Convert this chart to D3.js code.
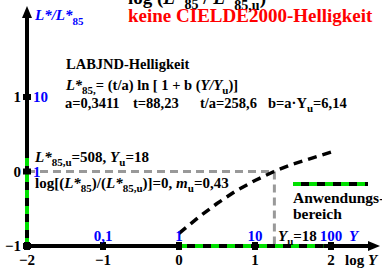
<!DOCTYPE html>
<html>
<head>
<meta charset="utf-8">
<script src="https://cdn.jsdelivr.net/npm/d3@7"></script>
<style>
  body { margin: 0; background: #fff; }
  svg text { font-family: "Liberation Serif", "Times New Roman", serif; font-weight: bold; }
</style>
</head>
<body>
<div id="chart"></div>
<script>
// data
const xTicks = [-2, -1, 0, 1, 2];
const yTicks = [-1, 0, 1];
const yTickLabels = ['\u22121', '0', '1'];
const xTickLabels = ['\u22122', '\u22121', '0', '1', '2'];
const yValueTicks = [0.1, 1, 10, 100];          // Y values above the x axis
const yValueLabels = ['0,1', '1', '10', '100'];
const ratioTicks = [0, 1];                       // L*/L*85 labels on the y axis
const ratioLabels = ['1', '10'];
const curveLogY = [0, 0.25, 0.5, 0.75, 1, 1.25, 1.5, 1.75, 2];
const curveLogL = [-0.83, -0.62, -0.43, -0.26, -0.12, 0.0, 0.10, 0.18, 0.26];
const logYu = 1.255;   // Yu = 18
const rangeX = [0, 1.9];
const rangeY = [-1, 0.25];

const width = 382, height = 268;
const x = d3.scaleLinear().domain([-2, 2]).range([27, 331]);
const y = d3.scaleLinear().domain([-1, 1]).range([246, 97]);

const svg = d3.select('#chart').append('svg')
  .attr('width', width).attr('height', height);

// gray helper lines
svg.append('line')
  .attr('x1', x(-2)).attr('x2', x(logYu)).attr('y1', y(0)).attr('y2', y(0))
  .attr('stroke', '#999').attr('stroke-width', 3).attr('stroke-dasharray', '8,5');
svg.append('line')
  .attr('x1', x(logYu)).attr('x2', x(logYu)).attr('y1', y(0)).attr('y2', y(-1))
  .attr('stroke', '#999').attr('stroke-width', 3).attr('stroke-dasharray', '8,5');

// axes
svg.append('line').attr('x1', x(-2)).attr('x2', 372).attr('y1', y(-1)).attr('y2', y(-1))
  .attr('stroke', '#000').attr('stroke-width', 4);
svg.append('path').attr('d', `M380,${y(-1)} L368,${y(-1) - 5} L368,${y(-1) + 5}Z`).attr('fill', '#000');
svg.append('line').attr('x1', x(-2)).attr('x2', x(-2)).attr('y1', y(-1)).attr('y2', 16)
  .attr('stroke', '#000').attr('stroke-width', 4);
svg.append('path').attr('d', `M${x(-2)},6 L${x(-2) - 5},18 L${x(-2) + 5},18Z`).attr('fill', '#000');

// application range (green dashes over axes)
svg.append('line').attr('x1', x(rangeX[0])).attr('x2', x(rangeX[1])).attr('y1', y(-1)).attr('y2', y(-1))
  .attr('stroke', '#00e000').attr('stroke-width', 4).attr('stroke-dasharray', '8,8');
svg.append('line').attr('x1', x(-2)).attr('x2', x(-2)).attr('y1', y(rangeY[0])).attr('y2', y(rangeY[1]))
  .attr('stroke', '#00e000').attr('stroke-width', 4).attr('stroke-dasharray', '8,8');

// tick marks
svg.selectAll('.xt').data(xTicks).enter().append('rect')
  .attr('x', d => x(d) - 3).attr('y', y(-1) - 4).attr('width', 6).attr('height', 8).attr('fill', '#000');
svg.selectAll('.yt').data(yTicks).enter().append('rect')
  .attr('x', x(-2) - 4).attr('y', d => y(d) - 3).attr('width', 8).attr('height', 6).attr('fill', '#000');

// curve
const line = d3.line().x((d, i) => x(curveLogY[i])).y(d => y(d));
svg.append('path').datum(curveLogL).attr('d', line)
  .attr('fill', 'none').attr('stroke', '#000').attr('stroke-width', 3.5).attr('stroke-dasharray', '9,6');

// tick labels
svg.selectAll('.xl').data(xTicks).enter().append('text')
  .attr('x', d => x(d)).attr('y', 265).attr('text-anchor', 'middle').attr('font-size', 15)
  .text((d, i) => xTickLabels[i]);
svg.selectAll('.yl').data(yTicks).enter().append('text')
  .attr('x', 21).attr('y', d => y(d) + 5).attr('text-anchor', 'end').attr('font-size', 15)
  .text((d, i) => yTickLabels[i]);
svg.selectAll('.yv').data(yValueTicks).enter().append('text')
  .attr('x', d => x(Math.log10(d))).attr('y', 241).attr('text-anchor', 'middle').attr('font-size', 15)
  .attr('fill', '#0000ff').text((d, i) => yValueLabels[i]);
svg.selectAll('.rv').data(ratioTicks).enter().append('text')
  .attr('x', 33).attr('y', d => y(d) + 5).attr('font-size', 15)
  .attr('fill', '#0000ff').text((d, i) => ratioLabels[i]);

svg.append('text').attr('x', 349).attr('y', 241).attr('font-size', 15).attr('fill', '#0000ff')
  .attr('font-style', 'italic').text('Y');
const ly = svg.append('text').attr('x', 345).attr('y', 265).attr('font-size', 15);
ly.append('tspan').text('log ');
ly.append('tspan').attr('font-style', 'italic').text('Y');

// y axis title
const yt = svg.append('text').attr('x', 35).attr('y', 20).attr('font-size', 15).attr('fill', '#0000ff');
yt.append('tspan').attr('font-style', 'italic').text('L*/L*');
yt.append('tspan').attr('font-size', 11).attr('dy', 5).text('85');

// title
const t = svg.append('text').attr('x', 128).attr('y', 4).attr('font-size', 19);
t.append('tspan').text('log (');
t.append('tspan').attr('font-style', 'italic').text('L*');
t.append('tspan').attr('font-size', 14).attr('dy', 5).text('85');
t.append('tspan').attr('dy', -5).text(' / ');
t.append('tspan').attr('font-style', 'italic').text('L*');
t.append('tspan').attr('font-size', 14).attr('dy', 6).text('85,u');
t.append('tspan').attr('dy', -6).text(')');
svg.append('text').attr('x', 128).attr('y', 22).attr('font-size', 19).attr('fill', '#ff0000')
  .text('keine CIELDE2000-Helligkeit');

// formula block
svg.append('text').attr('x', 66).attr('y', 69).attr('font-size', 14.5).text('LABJND-Helligkeit');
const f = svg.append('text').attr('x', 66).attr('y', 90).attr('font-size', 14.5);
f.append('tspan').attr('font-style', 'italic').text('L*');
f.append('tspan').attr('font-size', 11).attr('dy', 4).text('85,');
f.append('tspan').attr('dy', -4).text('= (t/a) ln [ 1 + b (');
f.append('tspan').attr('font-style', 'italic').text('Y/Y');
f.append('tspan').attr('font-size', 11).attr('dy', 4).text('u');
f.append('tspan').attr('dy', -4).text(')]');
svg.append('text').attr('x', 65).attr('y', 108).attr('font-size', 14.5).text('a=0,3411');
svg.append('text').attr('x', 133).attr('y', 108).attr('font-size', 14.5).text('t=88,23');
svg.append('text').attr('x', 200).attr('y', 108).attr('font-size', 14.5).text('t/a=258,6');
const p = svg.append('text').attr('x', 268).attr('y', 108).attr('font-size', 14.5);
p.append('tspan').text('b=a\u00b7Y');
p.append('tspan').attr('font-size', 11).attr('dy', 4).text('u');
p.append('tspan').attr('dy', -4).text('=6,14');

// reference point text
const r1 = svg.append('text').attr('x', 35).attr('y', 162).attr('font-size', 15);
r1.append('tspan').attr('font-style', 'italic').text('L*');
r1.append('tspan').attr('font-size', 11).attr('dy', 4).text('85,u');
r1.append('tspan').attr('dy', -4).text('=508, ');
r1.append('tspan').attr('font-style', 'italic').text('Y');
r1.append('tspan').attr('font-size', 11).attr('dy', 4).text('u');
r1.append('tspan').attr('dy', -4).text('=18');
const r2 = svg.append('text').attr('x', 35).attr('y', 188).attr('font-size', 15);
r2.append('tspan').text('log[(');
r2.append('tspan').attr('font-style', 'italic').text('L*');
r2.append('tspan').attr('font-size', 11).attr('dy', 4).text('85');
r2.append('tspan').attr('dy', -4).text(')/(');
r2.append('tspan').attr('font-style', 'italic').text('L*');
r2.append('tspan').attr('font-size', 11).attr('dy', 4).text('85,u');
r2.append('tspan').attr('dy', -4).text(')]=0, ');
r2.append('tspan').attr('font-style', 'italic').text('m');
r2.append('tspan').attr('font-size', 11).attr('dy', 4).text('u');
r2.append('tspan').attr('dy', -4).text('=0,43');

const yu = svg.append('text').attr('x', 278).attr('y', 241).attr('font-size', 15);
yu.append('tspan').attr('font-style', 'italic').text('Y');
yu.append('tspan').attr('font-size', 11).attr('dy', 4).text('u');
yu.append('tspan').attr('dy', -4).text('=18');

// legend
svg.append('line').attr('x1', 293).attr('x2', 368).attr('y1', 184).attr('y2', 184)
  .attr('stroke', '#000').attr('stroke-width', 4);
svg.append('line').attr('x1', 293).attr('x2', 368).attr('y1', 184).attr('y2', 184)
  .attr('stroke', '#00e000').attr('stroke-width', 4).attr('stroke-dasharray', '8,8');
svg.append('text').attr('x', 293).attr('y', 203).attr('font-size', 15.5).text('Anwendungs-');
svg.append('text').attr('x', 293).attr('y', 219).attr('font-size', 15.5).text('bereich');
</script>
</body>
</html>
